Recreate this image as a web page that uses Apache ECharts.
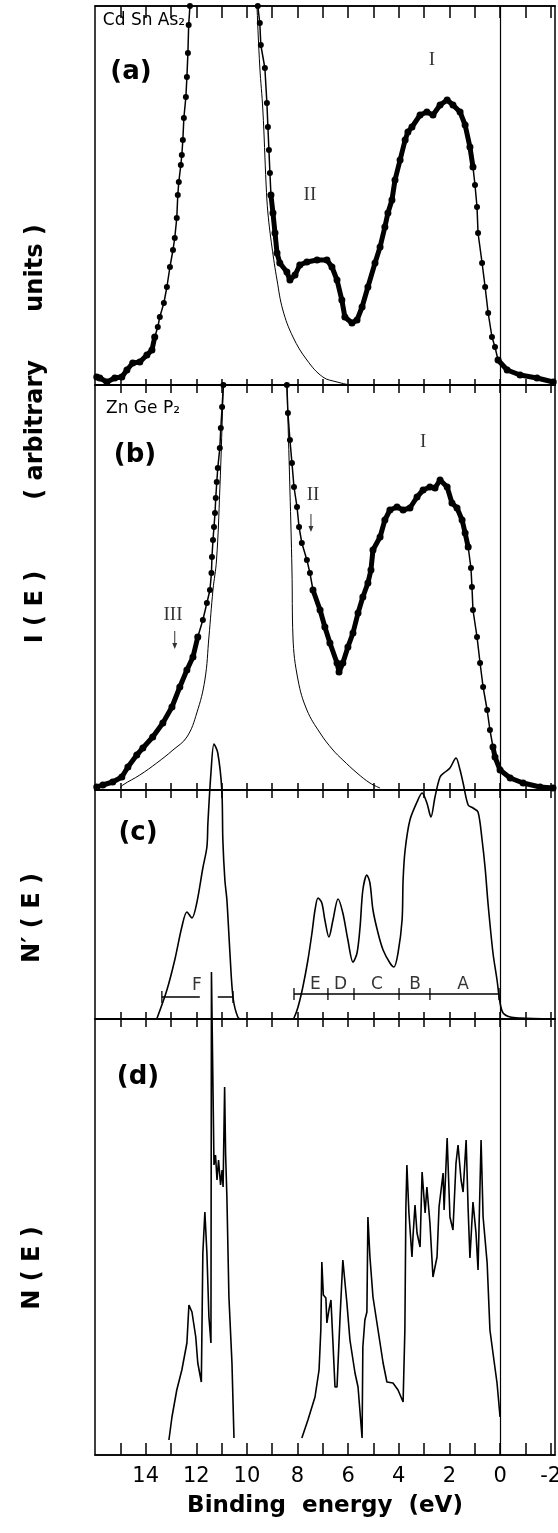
<!DOCTYPE html>
<html>
<head>
<meta charset="utf-8">
<script src="https://cdn.jsdelivr.net/npm/echarts@6/dist/echarts.min.js"></script>
<style>
html, body { margin: 0; padding: 0; background: #fff; }
#main { width: 558px; height: 1533px; }
</style>
</head>
<body>
<div id="main"></div>
<script>
// energy scale (eV), drawn reversed
var energyTicks = [15, 14, 13, 12, 11, 10, 9, 8, 7, 6, 5, 4, 3, 2, 1, 0, -1, -2];
var energyLabels = [14, 12, 10, 8, 6, 4, 2, 0, -2];

// (a) CdSnAs2, measured points [eV, I]
var aFootL = [[15.93, 8], [15.81, 7], [15.53, 3], [15.22, 7], [14.94, 8], [14.74, 15], [14.51, 22], [14.23, 23],
    [13.95, 30], [13.75, 35], [13.64, 48]];
var aWingL = [[13.64, 48], [13.52, 58], [13.44, 68], [13.28, 82], [13.16, 98], [13.04, 118], [12.92, 135],
    [12.85, 147], [12.77, 167], [12.73, 190], [12.69, 203], [12.61, 220], [12.57, 230], [12.53, 245],
    [12.49, 267], [12.41, 288], [12.37, 308], [12.33, 332], [12.30, 360], [12.25, 379], [12.20, 400]];
var aWingR = [[9.62, 400], [9.57, 379], [9.49, 362], [9.45, 340], [9.29, 317], [9.21, 282], [9.17, 258],
    [9.13, 235], [9.09, 212], [9.05, 190]];
var aBand = [[9.05, 190], [8.97, 172], [8.89, 152], [8.81, 132], [8.70, 122], [8.42, 113], [8.30, 105],
    [8.10, 110], [7.91, 120], [7.63, 123], [7.23, 125], [6.84, 125], [6.64, 118], [6.44, 105], [6.25, 85],
    [6.13, 68], [5.85, 62], [5.65, 65], [5.45, 78], [5.22, 98], [4.94, 122], [4.74, 138], [4.55, 158],
    [4.43, 172], [4.27, 185], [4.15, 205], [3.95, 225], [3.75, 245], [3.64, 253], [3.48, 258], [3.16, 270],
    [2.89, 273], [2.65, 270], [2.37, 280], [2.09, 285], [1.86, 280], [1.58, 273], [1.38, 260], [1.19, 238],
    [1.07, 218]];
var aEdge = [[1.07, 218], [0.99, 200], [0.91, 178], [0.87, 152], [0.71, 122], [0.59, 98], [0.47, 72],
    [0.32, 48], [0.20, 38], [0.08, 25]];
var aTail = [[0.08, 25], [-0.28, 15], [-0.79, 10], [-1.46, 7], [-2.10, 3]];
// (a) core level fit
var aFit = [[9.62, 400], [9.60, 378], [9.49, 318], [9.37, 275], [9.24, 200], [9.17, 172], [9.01, 138],
    [8.81, 105], [8.58, 75], [8.18, 48], [7.63, 25], [7.00, 8], [6.44, 3], [5.93, 0]];

// (b) ZnGeP2, measured points
var bFootL = [[15.93, 3], [15.69, 5], [15.30, 8], [14.94, 13], [14.70, 23], [14.35, 35], [14.11, 42],
    [13.72, 53], [13.32, 67], [12.96, 83], [12.65, 103], [12.37, 120], [12.13, 133], [11.94, 153]];
var bWingL = [[11.94, 153], [11.74, 170], [11.58, 187], [11.46, 200], [11.40, 217], [11.38, 233],
    [11.34, 250], [11.30, 263], [11.26, 277], [11.23, 292], [11.19, 308], [11.15, 322], [11.07, 342],
    [11.03, 362], [10.98, 383], [10.93, 405], [10.90, 430]];
var bWingR = [[8.45, 430], [8.42, 405], [8.38, 377], [8.30, 350], [8.22, 327], [8.14, 303], [8.02, 283],
    [7.94, 263], [7.83, 247], [7.63, 230], [7.51, 217], [7.39, 200]];
var bBand = [[7.39, 200], [7.11, 180], [6.92, 163], [6.72, 147], [6.44, 127], [6.36, 118], [6.21, 127],
    [6.01, 143], [5.81, 157], [5.61, 177], [5.42, 193], [5.22, 207], [5.10, 220], [5.02, 240], [4.74, 253],
    [4.55, 270], [4.35, 280], [4.07, 283], [3.83, 280], [3.56, 282], [3.28, 293], [3.04, 300], [2.77, 303],
    [2.57, 302], [2.37, 310], [2.09, 303], [1.90, 287], [1.70, 282], [1.50, 270], [1.38, 257], [1.26, 243]];
var bEdge = [[1.26, 243], [1.15, 222], [1.11, 203], [1.07, 180], [0.91, 153], [0.79, 127], [0.67, 103],
    [0.51, 80], [0.40, 60], [0.28, 43]];
var bTail = [[0.28, 43], [0.20, 33], [0.00, 20], [-0.40, 12], [-0.91, 7], [-1.58, 3], [-2.09, 2]];
// (b) core level fits
var bFitL = [[10.90, 430], [10.93, 405], [11.07, 300], [11.20, 230], [11.34, 200], [11.50, 153], [11.66, 110],
    [11.98, 77], [12.37, 53], [12.92, 40], [13.56, 27], [14.23, 15], [14.90, 5], [15.00, 2]];
var bFitR = [[8.45, 430], [8.42, 405], [8.30, 300], [8.22, 220], [8.18, 153], [7.98, 110], [7.63, 80],
    [7.11, 57], [6.60, 40], [6.21, 30], [5.65, 17], [5.14, 7], [4.74, 2]];

// (c) broadened density of states N'(E)
var cCurve = [[13.56, 0], [13.16, 29], [12.85, 59], [12.57, 92], [12.37, 107], [12.17, 101], [11.98, 116],
    [11.74, 151], [11.58, 172], [11.54, 196], [11.42, 246], [11.30, 275], [11.15, 266], [10.99, 229],
    [10.95, 179], [10.87, 139], [10.79, 119], [10.67, 66], [10.55, 22], [10.36, 2], [10.20, 0], [8.20, 0],
    [8.14, 1], [7.98, 12], [7.79, 32], [7.59, 59], [7.43, 86], [7.31, 109], [7.19, 121], [7.04, 116],
    [6.92, 99], [6.76, 82], [6.60, 99], [6.40, 120], [6.21, 106], [6.01, 79], [5.81, 57], [5.65, 66],
    [5.53, 92], [5.42, 129], [5.26, 144], [5.14, 136], [5.02, 109], [4.82, 86], [4.62, 69], [4.35, 56],
    [4.19, 52], [4.03, 66], [3.87, 99], [3.83, 139], [3.75, 169], [3.56, 199], [3.28, 217], [3.08, 226],
    [2.89, 216], [2.73, 202], [2.57, 222], [2.37, 242], [2.17, 247], [1.98, 251], [1.74, 261], [1.58, 249],
    [1.46, 236], [1.26, 214], [1.07, 211], [0.87, 207], [0.71, 179], [0.59, 151], [0.47, 114], [0.28, 66],
    [0.12, 39], [0.00, 16], [-0.12, 6], [-0.40, 2], [-0.79, 1], [-2.10, 0]];
// (c) band groups
var cBarEA = [[8.14, 25], [0.04, 25]];
var cBarF1 = [[13.36, 22], [11.86, 22]];
var cBarF2 = [[11.15, 22], [10.55, 22]];
var cBarTicks = [[13.36, 22], [10.55, 22], [8.14, 25], [6.80, 25], [5.77, 25], [3.99, 25], [2.77, 25], [0.04, 25]];
var cBarNames = [['F', 11.98, 33], ['E', 7.30, 34], ['D', 6.30, 34], ['C', 4.86, 34], ['B', 3.36, 34], ['A', 1.46, 34]];

// (d) density of states N(E)
var dLow = [[13.08, 15], [12.96, 38], [12.77, 65], [12.57, 85], [12.37, 112], [12.29, 150], [12.17, 143],
    [12.02, 118], [11.94, 92], [11.80, 73], [11.74, 202], [11.66, 243], [11.58, 202], [11.50, 138],
    [11.42, 112], [11.40, 483], [11.30, 290], [11.24, 300], [11.18, 275], [11.12, 295], [11.04, 270],
    [10.98, 285], [10.94, 268], [10.88, 368], [10.84, 300], [10.79, 258], [10.71, 158], [10.59, 92],
    [10.51, 17]];
var dHigh = [[7.83, 17], [7.59, 35], [7.31, 58], [7.15, 85], [7.08, 125], [7.04, 193], [6.98, 160],
    [6.88, 157], [6.84, 132], [6.76, 145], [6.68, 155], [6.60, 112], [6.52, 68], [6.44, 68], [6.32, 138],
    [6.21, 195], [6.05, 152], [5.93, 115], [5.73, 82], [5.61, 68], [5.45, 17], [5.42, 108], [5.34, 135],
    [5.26, 143], [5.22, 238], [5.14, 198], [5.02, 158], [4.82, 125], [4.62, 92], [4.47, 73], [4.23, 72],
    [4.03, 65], [3.83, 53], [3.76, 125], [3.72, 248], [3.68, 290], [3.60, 242], [3.48, 198], [3.44, 218],
    [3.36, 250], [3.28, 222], [3.16, 208], [3.08, 283], [2.96, 242], [2.89, 268], [2.77, 232], [2.65, 178],
    [2.49, 198], [2.41, 248], [2.25, 282], [2.21, 245], [2.09, 317], [1.98, 238], [1.86, 225], [1.74, 292],
    [1.66, 310], [1.54, 275], [1.46, 263], [1.34, 315], [1.26, 245], [1.19, 197], [1.07, 253], [0.95, 222],
    [0.87, 185], [0.75, 315], [0.67, 238], [0.51, 192], [0.40, 125], [0.28, 102], [0.12, 72], [0.00, 38]];

// structure labels
var aNotes = [['I', 2.69, 325], ['II', 7.51, 190]];
var bNotes = [['I', 3.04, 348], ['II', 7.39, 295], ['III', 12.92, 175]];
var bArrows = [[7.47, 267], [12.85, 150]];

// panel layout (px)
var gridTop = [6, 385, 790, 1019];
var gridHeight = [379, 405, 229, 436];
var tickUp = [6, 7, 7, 12];
var tickDown = [12, 8, 8, 8];
var font = 'DejaVu Sans';

function energyAxis(grid, pos, len, labelled) {
    return {
        gridIndex: grid,
        type: 'value',
        position: pos,
        min: -2.17,
        max: 16,
        inverse: true,
        axisLine: {show: true, onZero: false, lineStyle: {color: '#000', width: 1.5}},
        axisTick: {show: true, inside: true, length: len, customValues: energyTicks,
            lineStyle: {color: '#000', width: 1.5}},
        axisLabel: {show: labelled, customValues: energyLabels, color: '#000', fontSize: 21,
            margin: 11, fontFamily: font},
        splitLine: {show: false},
        name: labelled ? 'Binding  energy  (eV)' : '',
        nameLocation: 'middle',
        nameGap: 40,
        nameTextStyle: {color: '#000', fontSize: 23, fontFamily: font, fontWeight: 'bold'}
    };
}

var grids = [], xAxes = [], yAxes = [];
for (var i = 0; i < 4; i++) {
    grids.push({left: 95, width: 460, top: gridTop[i], height: gridHeight[i], show: true,
        containLabel: false, outerBoundsMode: 'none',
        borderColor: '#000', borderWidth: 1.5, backgroundColor: 'transparent'});
    xAxes.push(energyAxis(i, 'bottom', tickUp[i], i === 3));
    xAxes.push(energyAxis(i, 'top', tickDown[i], false));
    yAxes.push({gridIndex: i, type: 'value', min: 0, max: gridHeight[i], show: false});
}

var zeroLine = {
    silent: true,
    symbol: ['none', 'none'],
    label: {show: false},
    lineStyle: {color: '#000', width: 1.2, type: 'solid'},
    data: [{xAxis: 0}]
};

// dotted experimental curve
function dots(data, grid, heavy) {
    return {
        type: 'line', xAxisIndex: grid * 2, yAxisIndex: grid, data: data,
        symbol: 'circle', symbolSize: heavy ? 7 : 6,
        itemStyle: {color: '#000'},
        lineStyle: {color: '#000', width: heavy ? 5 : 1.5},
        silent: true, z: 3
    };
}

function curve(data, grid, width, smooth, clip) {
    return {
        type: 'line', xAxisIndex: grid * 2, yAxisIndex: grid, data: data,
        symbol: 'none', smooth: smooth, clip: clip,
        lineStyle: {color: '#000', width: width},
        silent: true, z: 2
    };
}

function notes(items, grid, family, size) {
    return {
        type: 'scatter', xAxisIndex: grid * 2, yAxisIndex: grid,
        data: items.map(function (n) { return {name: n[0], value: [n[1], n[2]]}; }),
        symbolSize: 1, itemStyle: {color: 'rgba(0,0,0,0)'}, clip: false, silent: true,
        label: {show: true, position: 'inside', formatter: '{b}', color: '#000',
            fontFamily: family, fontSize: size}
    };
}

var series = [
    dots(aFootL, 0, true), dots(aWingL, 0, false), dots(aWingR, 0, false),
    dots(aBand, 0, true), dots(aEdge, 0, false), dots(aTail, 0, true),
    curve(aFit, 0, 1, 0.4, true),
    dots(bFootL, 1, true), dots(bWingL, 1, false), dots(bWingR, 1, false),
    dots(bBand, 1, true), dots(bEdge, 1, false), dots(bTail, 1, true),
    curve(bFitL, 1, 1, 0.4, true), curve(bFitR, 1, 1, 0.4, true),
    curve(cCurve, 2, 1.6, 0.3, false),
    curve(cBarEA, 2, 1.5, false, false), curve(cBarF1, 2, 1.5, false, false), curve(cBarF2, 2, 1.5, false, false),
    {
        type: 'scatter', xAxisIndex: 4, yAxisIndex: 2, data: cBarTicks,
        symbol: 'rect', symbolSize: [1.6, 12], itemStyle: {color: '#000'}, silent: true
    },
    curve(dLow, 3, 1.6, false, false), curve(dHigh, 3, 1.6, false, false),
    notes(aNotes, 0, 'Liberation Serif', 19), notes(bNotes, 1, 'Liberation Serif', 19),
    notes(cBarNames, 2, font, 17),
    {
        type: 'scatter', xAxisIndex: 2, yAxisIndex: 1, data: bArrows,
        symbol: 'path://M2.4,0 L3.6,0 L3.6,12 L6,12 L3,18 L0,12 L2.4,12 Z',
        symbolSize: [5, 18], itemStyle: {color: '#000'}, silent: true
    }
];
series[5].markLine = zeroLine;
series[12].markLine = zeroLine;
series[15].markLine = zeroLine;
series[21].markLine = zeroLine;

function label(text, x, y, size, rotate, weight) {
    return {
        type: 'text', x: x, y: y, rotation: rotate ? Math.PI / 2 : 0, silent: true,
        style: {text: text, fill: '#000', fontSize: size, fontFamily: font, fontWeight: weight || 'bold',
            align: 'center', verticalAlign: 'middle'}
    };
}

var chart = echarts.init(document.getElementById('main'));
chart.setOption({
    animation: false,
    backgroundColor: '#fff',
    grid: grids,
    xAxis: xAxes,
    yAxis: yAxes,
    series: series,
    graphic: [
        label('Cd Sn As₂', 144, 21, 17, false, 'normal'),
        label('Zn Ge P₂', 143, 409, 17, false, 'normal'),
        label('(a)', 131, 72, 26, false),
        label('(b)', 135, 455, 26, false),
        label('(c)', 138, 833, 26, false),
        label('(d)', 138, 1077, 26, false),
        label('I ( E )', 36, 607, 24, true),
        label('( arbitrary', 36, 430, 24, true),
        label('units )', 36, 268, 24, true),
        label('N′ ( E )', 33, 918, 24, true),
        label('N ( E )', 33, 1268, 24, true)
    ]
});
</script>
</body>
</html>
